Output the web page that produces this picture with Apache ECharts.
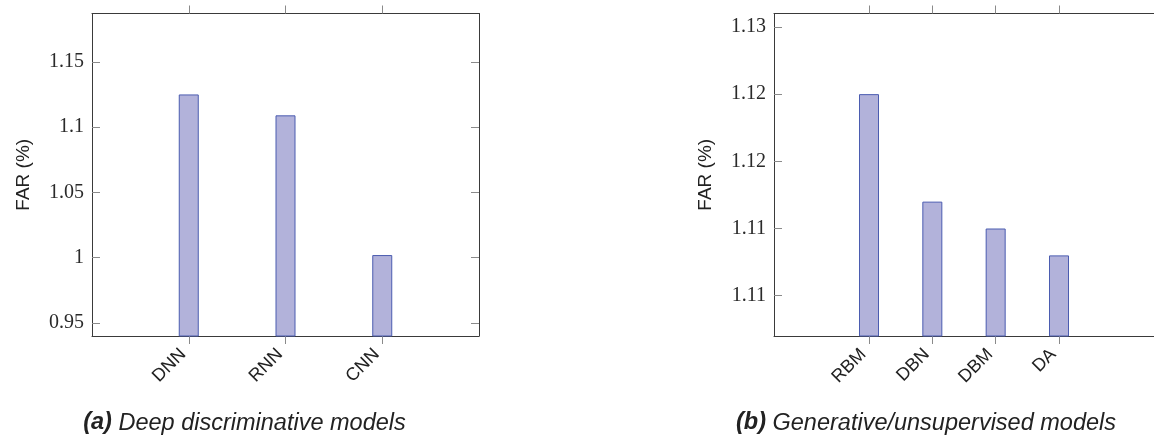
<!DOCTYPE html>
<html>
<head>
<meta charset="utf-8">
<script src="https://cdn.jsdelivr.net/npm/echarts@6/dist/echarts.min.js"></script>
<style>
html, body { margin: 0; padding: 0; background: #fff; }
#chart { width: 1154px; height: 442px; }
</style>
</head>
<body>
<div id="chart"></div>
<script>
// (a) deep discriminative models
var leftCats = ['DNN', 'RNN', 'CNN'];
var leftFar = [1.125, 1.109, 1.002];
var leftYTicks = [0.95, 1, 1.05, 1.1, 1.15];
var leftYLabels = ['0.95', '1', '1.05', '1.1', '1.15'];

// (b) generative / unsupervised models
var rightCats = ['RBM', 'DBN', 'DBM', 'DA'];
var rightFar = [1.12, 1.112, 1.11, 1.108];
var rightYTicks = [1.105, 1.11, 1.115, 1.12, 1.125];
var rightYLabels = ['1.11', '1.11', '1.12', '1.12', '1.13'];

var captions = ['Deep discriminative models', 'Generative/unsupervised models'];

var lineCol = '#3a3a3a', tickCol = '#8a8a8a';
var serif = '"Liberation Serif", "DejaVu Serif", serif';
var sans = '"Liberation Sans", Arial, sans-serif';

var leftPos = leftCats.map(function (c, i) { return i + 1; });
var rightPos = rightCats.map(function (c, i) { return i + 1.5; });

function labelFor(ticks, labels) {
    return function (v) {
        for (var i = 0; i < ticks.length; i++) {
            if (Math.abs(ticks[i] - v) < 1e-6) return labels[i];
        }
        return '';
    };
}
function catFor(pos, cats) {
    return function (v) {
        for (var i = 0; i < pos.length; i++) {
            if (Math.abs(pos[i] - v) < 1e-6) return cats[i];
        }
        return '';
    };
}

function xAxes(grid, max, pos, cats) {
    return [{
        type: 'value', gridIndex: grid, position: 'bottom', min: 0, max: max,
        splitLine: { show: false },
        axisLine: { show: true, onZero: false, lineStyle: { color: lineCol, width: 1 } },
        axisTick: { show: true, length: 8, customValues: pos, lineStyle: { color: tickCol } },
        axisLabel: {
            customValues: pos, rotate: 45, margin: 10, padding: [0, 8, 0, 0], color: '#222',
            fontFamily: sans, fontSize: 18, formatter: catFor(pos, cats)
        }
    }, {
        type: 'value', gridIndex: grid, position: 'top', min: 0, max: max,
        splitLine: { show: false },
        axisLine: { show: true, onZero: false, lineStyle: { color: lineCol, width: 1 } },
        axisTick: { show: true, length: 8, customValues: pos, lineStyle: { color: tickCol } },
        axisLabel: { show: false }
    }];
}

function yAxis(grid, min, max, ticks, labels, pos, show) {
    return {
        type: 'value', gridIndex: grid, position: pos, min: min, max: max,
        name: show ? 'FAR (%)' : '', nameLocation: 'middle', nameGap: 59,
        nameTextStyle: { fontFamily: sans, fontSize: 19, color: '#222' },
        splitLine: { show: false },
        axisLine: { show: true, onZero: false, lineStyle: { color: lineCol, width: 1 } },
        axisTick: { show: true, inside: true, length: 8, customValues: ticks, lineStyle: { color: tickCol } },
        axisLabel: {
            show: show, customValues: ticks, margin: 8, color: '#2a2a2a',
            fontFamily: serif, fontSize: 20, formatter: labelFor(ticks, labels)
        }
    };
}

function bars(xi, yi, pos, vals) {
    return {
        type: 'bar', xAxisIndex: xi, yAxisIndex: yi, barWidth: 20,
        data: pos.map(function (p, i) { return [p, vals[i]]; }),
        itemStyle: { color: '#b2b2da', borderColor: '#4b5cb0', borderWidth: 1 }
    };
}

function caption(x, tag, text) {
    return {
        type: 'text', x: x, y: 423,
        style: {
            text: '{b|' + tag + '} ' + text, align: 'center', verticalAlign: 'middle',
            fontFamily: sans, fontSize: 23.5, fontStyle: 'italic', fill: '#222',
            rich: { b: { fontWeight: 'bold', fontStyle: 'italic', fontFamily: sans, fontSize: 23.5, fill: '#222' } }
        }
    };
}

var chart = echarts.init(document.getElementById('chart'));
chart.setOption({
    animation: false,
    grid: [
        { left: 92, top: 13.5, width: 387, height: 322.5 },
        { left: 774, top: 13.5, width: 387, height: 322.5 }
    ],
    xAxis: xAxes(0, 4, leftPos, leftCats).concat(xAxes(1, 6, rightPos, rightCats)),
    yAxis: [
        yAxis(0, 0.94, 1.187, leftYTicks, leftYLabels, 'left', true),
        yAxis(0, 0.94, 1.187, leftYTicks, leftYLabels, 'right', false),
        yAxis(1, 1.102, 1.126, rightYTicks, rightYLabels, 'left', true)
    ],
    series: [
        bars(0, 0, leftPos, leftFar),
        bars(2, 2, rightPos, rightFar)
    ],
    graphic: [
        caption(244.5, '(a)', captions[0]),
        caption(926, '(b)', captions[1])
    ]
});
</script>
</body>
</html>
